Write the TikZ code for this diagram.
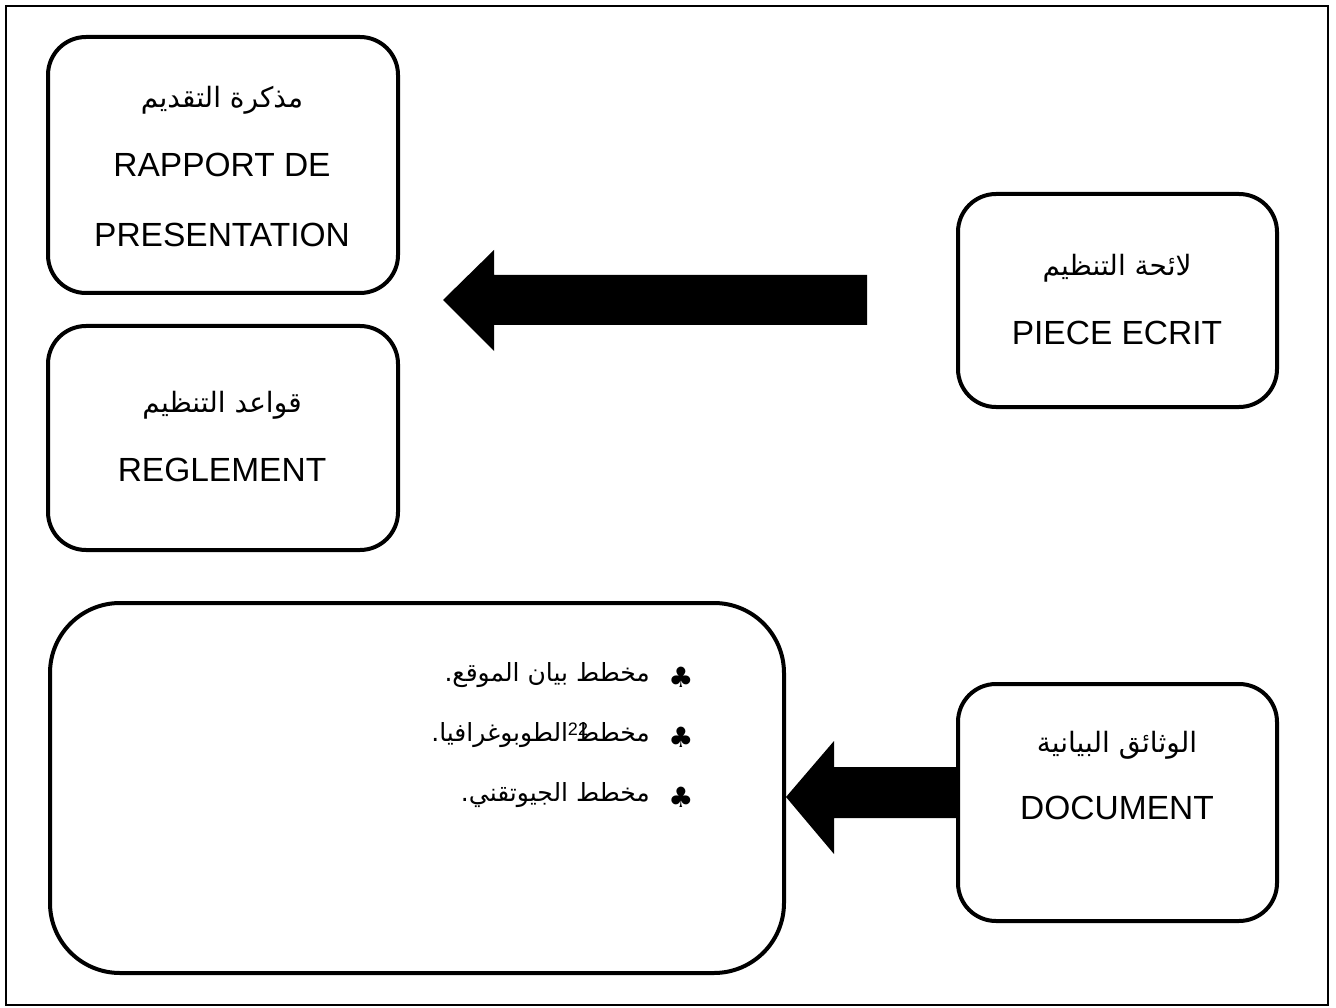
\documentclass[tikz,border=0pt]{standalone}
\usepackage{fontspec}
\setmainfont{Liberation Sans}
\newfontfamily\arabicfont[Script=Arabic]{DejaVu Sans}
\newfontfamily\symfont{DejaVu Sans}
\TeXXeTstate=1
\begin{document}
\begin{tikzpicture}[x=1pt,y=-1pt,
  box/.style={draw, line width=4pt, rounded corners=38pt, inner sep=0pt},
  lat/.style={font=\fontsize{33.5}{38}\selectfont, inner sep=0pt},
  ara/.style={font=\arabicfont\fontsize{28}{32}\selectfont, inner sep=0pt},
  lst/.style={font=\arabicfont\fontsize{25}{30}\selectfont, inner sep=0pt, anchor=east},
  club/.style={font=\symfont\fontsize{28}{32}\selectfont, inner sep=0pt},
  blk/.style={fill=black, draw=none}]
\useasboundingbox (0,0) rectangle (1336,1008);
\draw[line width=2pt] (6,6) rectangle (1328,1005);

% boxes
\node[box, minimum width=350pt, minimum height=256pt] (rap) at (223,165) {};
\node[box, minimum width=350pt, minimum height=224pt] (reg) at (223,438) {};
\node[box, minimum width=319pt, minimum height=213pt] (piece) at (1117.5,300.5) {};
\node[box, minimum width=319pt, minimum height=237pt] (doc) at (1117.5,802.5) {};
\node[box, rounded corners=70pt, minimum width=734pt, minimum height=370pt] (list) at (417,788) {};

% texts
\node[ara] (t1) at (222,100) {\beginR مذكرة التقديم\endR};
\node[lat] (t2) at (222,165) {RAPPORT DE};
\node[lat] (t3) at (222,235) {PRESENTATION};
\node[ara] (t4) at (222,405) {\beginR قواعد التنظيم\endR};
\node[lat] (t5) at (222,470) {REGLEMENT};
\node[ara] (t6) at (1117,268) {\beginR لائحة التنظيم\endR};
\node[lat] (t7) at (1117,333) {PIECE ECRIT};
\node[ara] (t8) at (1117,745) {\beginR الوثائق البيانية\endR};
\node[lat] (t9) at (1117,808) {DOCUMENT};

\node[lst] (l1) at (650,675) {\beginR مخطط بيان الموقع.\endR};
\node[lst] (l2) at (650,735) {\beginR مخطط الطوبوغرافيا.\endR};
\node[lst] (l3) at (650,795) {\beginR مخطط الجيوتقني.\endR};
\node[club] (b1) at (681,677) {♣};
\node[club] (b2) at (681,737) {♣};
\node[club] (b3) at (681,797) {♣};
\node[font=\fontsize{18}{22}\selectfont, inner sep=0pt] (pg) at (578,729) {22};

% block arrows
\fill[blk] (867,275) -- (494,275) -- (494,250) -- (443,300) -- (494,351) -- (494,325) -- (867,325) -- cycle;
\fill[blk] (doc.west |- 0,767) -- (834,767) -- (834,741) -- (list.east |- 0,797) -- (834,854) -- (834,818) -- (doc.west |- 0,818) -- cycle;
\end{tikzpicture}
\end{document}
